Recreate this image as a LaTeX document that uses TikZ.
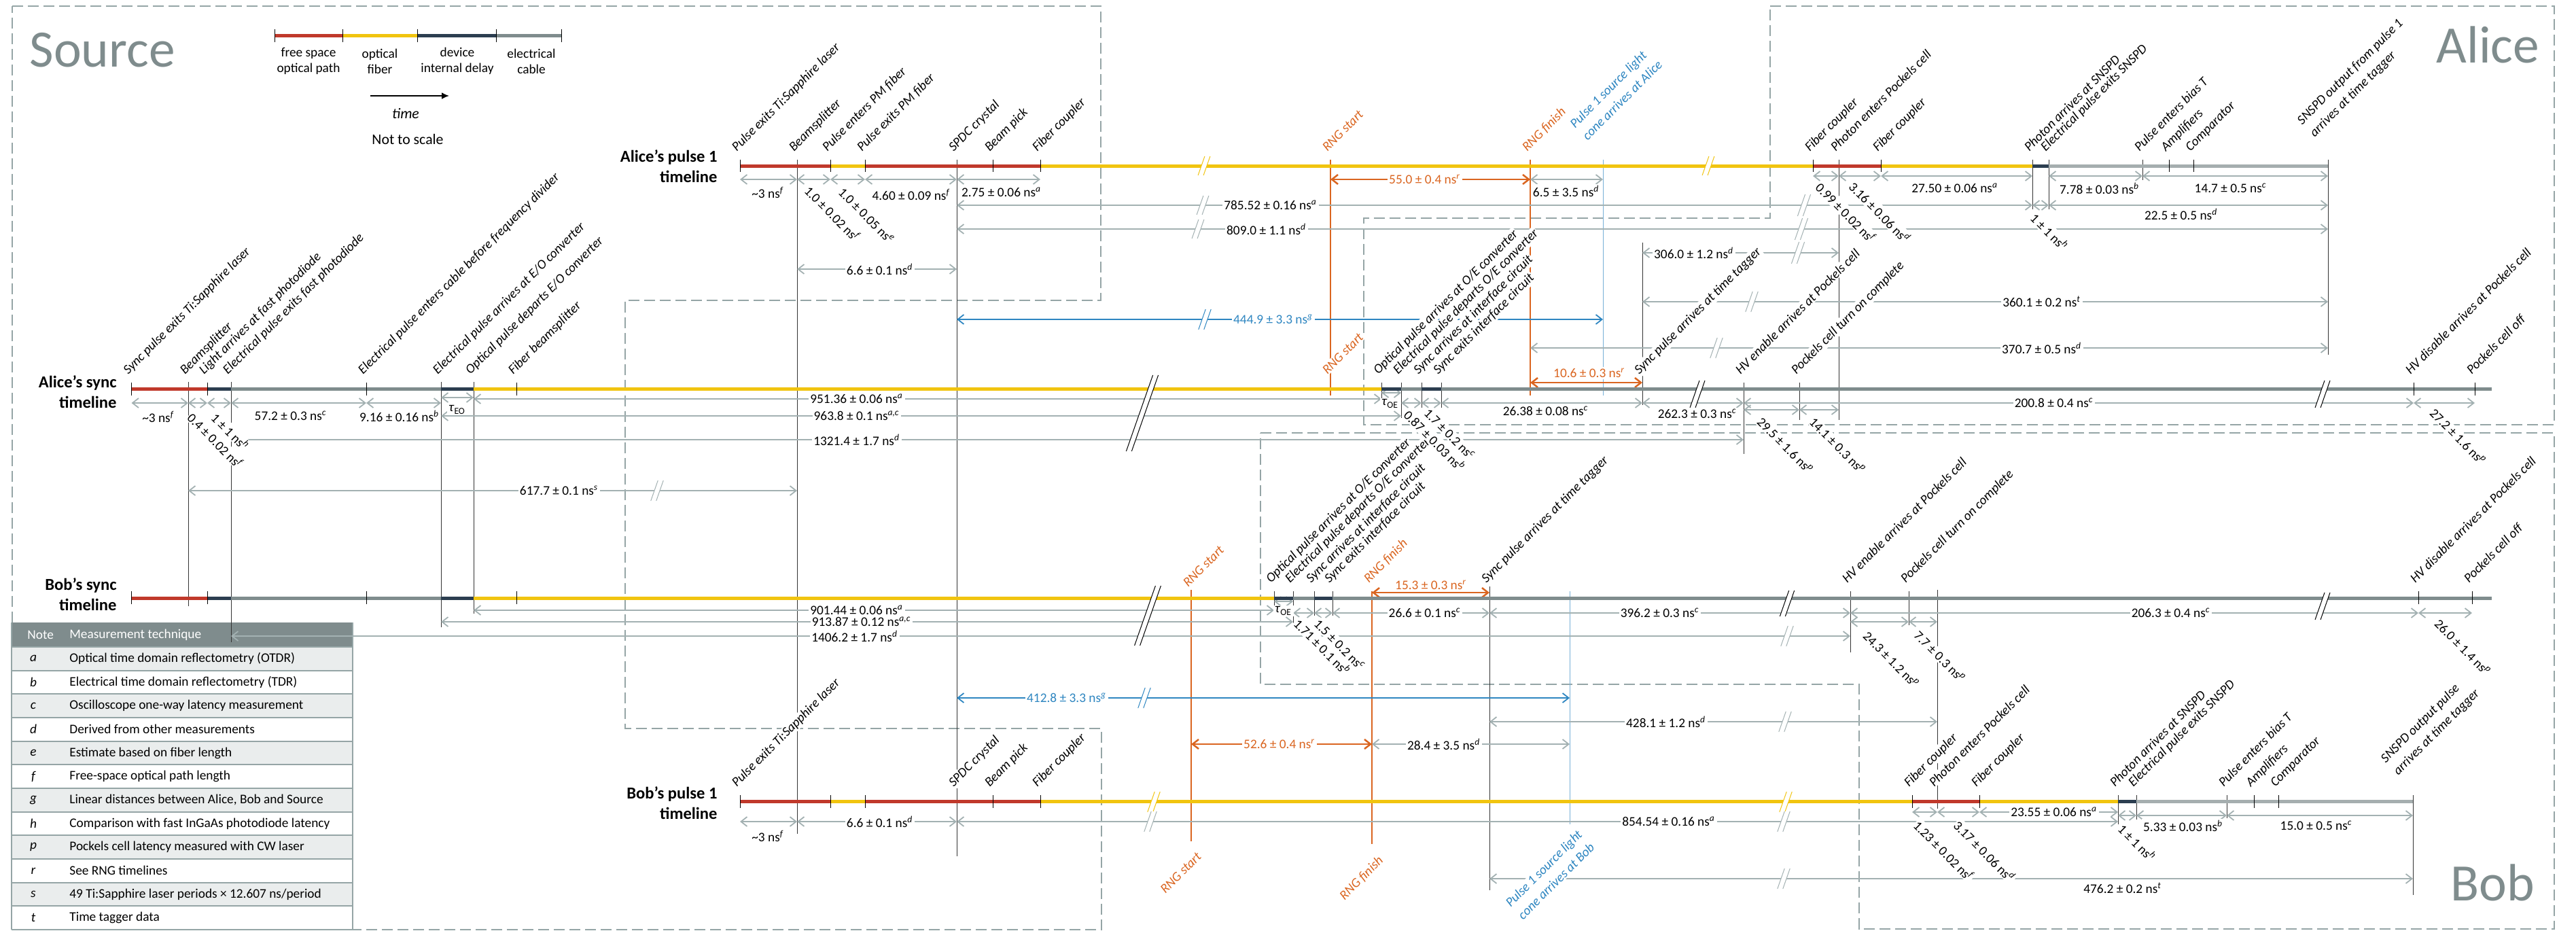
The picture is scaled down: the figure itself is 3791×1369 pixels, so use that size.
\documentclass[tikz,border=0pt]{standalone}
\usepackage{fontspec}
\setmainfont{Carlito}
\usepackage{xcolor}
\definecolor{tlred}{HTML}{C0392B}
\definecolor{tlyellow}{HTML}{F1C40F}
\definecolor{tlnavy}{HTML}{2C3E50}
\definecolor{tlcable}{HTML}{7F8C8D}
\definecolor{tldim}{HTML}{A3B1B2}
\definecolor{tlorange}{HTML}{DA6520}
\definecolor{tlblue}{HTML}{2E86C1}
\definecolor{tlframe}{HTML}{95A5A6}
\definecolor{tlrow}{HTML}{EAEDED}
\usetikzlibrary{arrows.meta}
\newcommand{\tlsize}{\fontsize{5.5}{7.4}\selectfont}
\newcommand{\msr}[1]{\textsuperscript{\itshape #1}}
\newcommand{\tdel}[1]{\textit{τ}\textsubscript{#1}}

\begin{document}
\begin{tikzpicture}[x=0.1mm, y=-0.1mm, font=\tlsize,
  seg/.style={line width=0.5mm},
  tk/.style={line width=0.1mm, black},
  rule/.style={line width=0.1mm, black!80},
  barbs/.style={{Straight Barb[length=0.9mm,width=1.4mm]}-{Straight Barb[length=0.9mm,width=1.4mm]}},
  dim/.style={barbs, line width=0.18mm, tldim},
  rng/.style={barbs, line width=0.25mm, tlorange},
  cone/.style={barbs, line width=0.18mm, tlblue},
  val/.style={fill=white, inner sep=0.6pt},
  tag/.style={rotate=45, anchor=base west, font=\tlsize\itshape, fill=white, inner sep=0.4pt},
  tag2/.style={tag, align=left},
  low/.style={rotate=45, anchor=north east, font=\tlsize\itshape, fill=white, inner sep=0.4pt, align=left},
  vtag/.style={rotate=-45, anchor=base west, fill=white, inner sep=0.4pt},
  zone/.style={tlframe, line width=0.15mm, dash pattern=on 1.6mm off 0.7mm},
  tlhead/.style={font=\fontsize{7}{8.5}\selectfont\bfseries, align=right, anchor=east},
  bigname/.style={font=\fontsize{22}{26}\selectfont, text=tlcable, anchor=base west, inner sep=0pt},
]
\useasboundingbox (0,0) rectangle (3791,1369);

% ---- dashed zones: source, Alice, Bob
\draw[zone] (18,9) -- (1620,9) -- (1620,442) -- (920,442) -- (920,1072)
  -- (1621,1072) -- (1621,1368) -- (18,1368) -- cycle;
\draw[zone] (2605,9) -- (3759,9) -- (3759,625) -- (2007,625) -- (2007,321)
  -- (2605,321) -- cycle;
\draw[zone] (1855,637) -- (3759,637) -- (3759,1367) -- (2736,1367)
  -- (2736,1007) -- (1855,1007) -- cycle;
\node[bigname] (src) at (43,98) {Source};
\node[bigname] (alice) at (3585,92) {Alice};
\node[bigname] (bob) at (3606,1325) {Bob};

% ---- legend
\foreach \a/\b/\c in {404/504/tlred, 504/614/tlyellow, 614/730/tlnavy, 730/826/tlcable}
  \draw[seg, \c] (\a,52) -- (\b,52);
\foreach \x in {404,504,614,730,826} \draw[tk] (\x,43) -- (\x,62);
\foreach \x/\t [count=\n] in {454/{free space\\optical path}, 559/{optical\\fiber},
    673/{device\\internal delay}, 782/{electrical\\cable}}
  \node[align=center, font=\fontsize{5.5}{6.6}\selectfont] (lg\n) at (\x,90) {\t};
\draw[-{Latex[length=1.1mm,width=1mm]}, line width=0.2mm] (545,141) -- (661,141);
\node[font=\fontsize{6.2}{7}\selectfont\itshape] (tm) at (597,167) {time};
\node[font=\fontsize{6.2}{7}\selectfont] (nts) at (600,205) {Not to scale};

% ---- notes table
\fill[tlrow] (17,952) rectangle (519,1368);
\foreach \i in {1,3,...,11} \fill[white] (17,952+34.67*\i) rectangle (519,986.67+34.67*\i);
\fill[tlcable] (17,916) rectangle (519,952);
\foreach \i in {0,...,12} \draw[tlframe, line width=0.2mm] (17,952+34.67*\i) -- (519,952+34.67*\i);
\draw[tlframe, line width=0.2mm] (17,916) -- (17,1368) (519,916) -- (519,1368);
\node[text=white, anchor=west] (nh) at (28,934) {Note};
\node[text=white, anchor=west] (mh) at (90,934) {Measurement technique};
\foreach \k/\t [count=\i from 0] in {a/{Optical time domain reflectometry (OTDR)},
    b/{Electrical time domain reflectometry (TDR)},
    c/{Oscilloscope one-way latency measurement},
    d/{Derived from other measurements}, e/{Estimate based on fiber length},
    f/{Free-space optical path length},
    g/{Linear distances between Alice, Bob and Source},
    h/{Comparison with fast InGaAs photodiode latency},
    p/{Pockels cell latency measured with CW laser}, r/{See RNG timelines},
    s/{49 Ti:Sapphire laser periods × 12.607 ns/period}, t/{Time tagger data}}{
  \node[font=\tlsize\itshape] (nk\k) at (49,969.3+34.67*\i) {\k};
  \node[anchor=west] (nt\k) at (90,969.3+34.67*\i) {\t};
}

% ---- event lines
\foreach \x/\a/\b in {1173/235/1227, 1408/235/1260, 2706/235/618, 2991/235/308,
    3015/235/308, 3153/235/265, 3426/235/522, 277/562/892, 340/562/945,
    649/562/923, 697/562/903, 2033/563/590, 2062/563/615, 2092/563/600,
    2121/563/600, 2417/357/596, 2566/563/668, 2648/563/618, 1875/870/903,
    1903/870/920, 1934/870/906, 1961/870/906, 2192/863/1310, 2723/870/960,
    2809/870/920, 2851/868/1190, 3117/1170/1213, 3144/1170/1206,
    3277/1170/1204, 3551/1170/1317}
  \draw[rule] (\x,\a) -- (\x,\b);
\foreach \x/\a/\b in {1958/235/582, 2252/235/582, 1753/868/1238, 2019/870/1242}
  \draw[line width=0.12mm, tlorange] (\x,\a) -- (\x,\b);
\foreach \x/\a/\b in {2359/235/582, 2310/870/1213}
  \draw[line width=0.1mm, tlblue!65] (\x,\a) -- (\x,\b);

% ---- measured intervals
\foreach \a/\b/\y in {1089/1173/264, 1173/1222/264, 1222/1273/264, 1273/1408/264,
    1408/1531/264, 1408/2991/302, 1408/3426/337, 1173/1408/396, 2252/2359/264,
    2668/2706/259, 2706/2768/259, 2768/2991/259, 3015/3153/259, 3153/3426/259,
    2991/3015/302, 3015/3426/302, 2417/2706/372, 2417/3426/444, 2252/3426/512,
    193.5/277/593, 277/305/593, 305/340/593, 340/539/593, 539/649/593,
    649/697/585, 697/2033/587, 649/2062/612, 340/2566/647, 277/1173/722,
    2033/2062/578, 2062/2092/593, 2092/2121/593, 2121/2417/593, 2417/2566/593,
    2566/2648/603, 2648/2706/603, 2566/3552/593, 3552/3642/593,
    697/1875/898, 649/1903/915, 340/2723/936, 1875/1903/885, 1903/1934/902,
    1934/1961/902, 1961/2192/902, 2192/2723/902, 2723/2809/915, 2809/2851/915,
    2723/3559/902, 3559/3638/902,
    1089/1173/1209, 1173/1408/1209, 1408/3117/1209, 2192/2851/1062,
    2019/2310/1095, 2192/3551/1293, 2814/2851/1195, 2851/2913/1195,
    2913/3117/1195, 3117/3144/1200, 3144/3277/1200, 3277/3551/1200}
  \draw[dim] (\a,\y) -- (\b,\y);
\foreach \a/\b/\y in {1958/2252/264, 2252/2417/563, 2019/2192/872, 1753/2019/1095}
  \draw[rng] (\a,\y) -- (\b,\y);
\foreach \a/\b/\y in {1408/2359/470, 1408/2310/1027}
  \draw[cone] (\a,\y) -- (\b,\y);

% ---- timelines
\foreach \a/\b/\y/\c in {1089/1222/244/tlred, 1222/1273/244/tlyellow,
    1273/1531/244/tlred, 1531/2668/244/tlyellow, 2668/2768/244/tlred,
    2768/2991/244/tlyellow, 2991/3015/244/tlnavy, 3015/3426/244/tlcable!70,
    193.5/305/572/tlred, 305/340/572/tlnavy, 340/649/572/tlcable,
    649/697/572/tlnavy, 697/2033/572/tlyellow, 2033/2062/572/tlnavy,
    2062/2092/572/tlcable, 2092/2121/572/tlnavy, 2121/3667/572/tlcable,
    193.5/305/880/tlred, 305/340/880/tlnavy, 340/649/880/tlcable,
    649/697/880/tlnavy, 697/1875/880/tlyellow, 1875/1903/880/tlnavy,
    1903/1934/880/tlcable, 1934/1961/880/tlnavy, 1961/3667/880/tlcable,
    1089/1222/1179/tlred, 1222/1273/1179/tlyellow, 1273/1531/1179/tlred,
    1531/2814/1179/tlyellow, 2814/2913/1179/tlred, 2913/3117/1179/tlyellow,
    3117/3144/1179/tlnavy, 3144/3551/1179/tlcable!70}
  \draw[seg, \c] (\a,\y) -- (\b,\y);
\foreach \x in {1089,1222,1273,1461,1531,2668,2768,3192,3228} \draw[tk] (\x,235) -- (\x,253);
\foreach \x in {193.5,305,539,760,3552,3642} \draw[tk] (\x,563) -- (\x,582);
\foreach \x in {193.5,305,539,760,3559,3638} \draw[tk] (\x,870) -- (\x,889);
\foreach \x in {1089,1222,1273,1461,1531,2814,2913,3317,3353} \draw[tk] (\x,1170) -- (\x,1189);

% ---- breaks in time
\foreach \x/\y/\h/\c in {1772/244/14/tlyellow, 2514/244/14/tlyellow,
    1770/302/14/tldim, 1763/337/14/tldim, 2655/302/16/tldim, 2651/337/16/tldim,
    2646/372/16/tldim, 1773/470/15/tlblue, 2578/444/15/tldim, 2526/512/15/tldim,
    1681/608/56/black, 2498/580/20/black, 3418/580/20/black, 967/722/15/tldim,
    1689/906/44/black, 2630/888/19/black, 3418/892/20/black, 2630/936/15/tldim,
    1684/1027/15/tlblue, 2627/1062/15/tldim, 1698/1180/15/tlyellow,
    2628/1180/15/tlyellow, 1693/1209/15/tldim, 2625/1209/15/tldim,
    2625/1293/15/tldim}{
  \fill[white] (\x-4-0.35*\h,\y+\h) -- (\x-4+0.35*\h,\y-\h)
    -- (\x+4+0.35*\h,\y-\h) -- (\x+4-0.35*\h,\y+\h) -- cycle;
  \draw[line width=0.1mm, \c] (\x-4-0.35*\h,\y+\h) -- (\x-4+0.35*\h,\y-\h)
    (\x+4-0.35*\h,\y+\h) -- (\x+4+0.35*\h,\y-\h);
}

% ---- timeline names
\node[tlhead] (hap) at (1068,245) {Alice’s pulse 1\\timeline};
\node[tlhead] (has) at (184,577) {Alice’s sync\\timeline};
\node[tlhead] (hbs) at (184,875) {Bob’s sync\\timeline};
\node[tlhead] (hbp) at (1068,1182) {Bob’s pulse 1\\timeline};

% ---- event names
\foreach \x/\t [count=\n] in {1089/{Pulse exits Ti:Sapphire laser}, 1173/Beamsplitter,
    1222/{Pulse enters PM fiber}, 1273/{Pulse exits PM fiber}, 1408/{SPDC crystal},
    1461/{Beam pick}, 1531/{Fiber coupler}, 2668/{Fiber coupler},
    2706/{Photon enters Pockels cell}, 2768/{Fiber coupler},
    2991/{Photon arrives at SNSPD}, 3015/{Electrical pulse exits SNSPD},
    3153/{Pulse enters bias T}, 3192/Amplifiers, 3228/Comparator}
  \node[tag] (ap\n) at (\x-6,225) {\t};
\foreach \x/\t [count=\n] in {193.5/{Sync pulse exits Ti:Sapphire laser}, 277/Beamsplitter,
    305/{Light arrives at fast photodiode}, 340/{Electrical pulse exits fast photodiode},
    539/{Electrical pulse enters cable before frequency divider},
    649/{Electrical pulse arrives at E/O converter},
    697/{Optical pulse departs E/O converter}, 760/{Fiber beamsplitter},
    2033/{Optical pulse arrives at O/E converter},
    2062/{Electrical pulse departs O/E converter},
    2092/{Sync arrives at interface circuit}, 2121/{Sync exits interface circuit},
    2417/{Sync pulse arrives at time tagger}, 2566/{HV enable arrives at Pockels cell},
    2648/{Pockels cell turn on complete}, 3552/{HV disable arrives at Pockels cell},
    3642/{Pockels cell off}}
  \node[tag] (as\n) at (\x-6,553) {\t};
\foreach \x/\t [count=\n] in {1875/{Optical pulse arrives at O/E converter},
    1903/{Electrical pulse departs O/E converter},
    1934/{Sync arrives at interface circuit}, 1961/{Sync exits interface circuit},
    2192/{Sync pulse arrives at time tagger}, 2723/{HV enable arrives at Pockels cell},
    2809/{Pockels cell turn on complete}, 3559/{HV disable arrives at Pockels cell},
    3638/{Pockels cell off}}
  \node[tag] (bs\n) at (\x-6,860) {\t};
\foreach \x/\t [count=\n] in {1089/{Pulse exits Ti:Sapphire laser}, 1408/{SPDC crystal},
    1461/{Beam pick}, 1531/{Fiber coupler}, 2814/{Fiber coupler},
    2851/{Photon enters Pockels cell}, 2913/{Fiber coupler},
    3117/{Photon arrives at SNSPD}, 3144/{Electrical pulse exits SNSPD},
    3277/{Pulse enters bias T}, 3317/Amplifiers, 3353/Comparator}
  \node[tag] (bp\n) at (\x-6,1160) {\t};
\foreach \x/\y/\t [count=\n] in {1958/225/{RNG start}, 2252/225/{RNG finish},
    1958/553/{RNG start}, 1753/866/{RNG start}, 2019/860/{RNG finish}}
  \node[tag, text=tlorange] (rg\n) at (\x-6,\y) {\t};
\node[tag2, text=tlblue] (acone) at (2335,209) {Pulse 1 source light\\cone arrives at Alice};
\node[tag2] (asnspd) at (3405,204) {SNSPD output from pulse 1\\arrives at time tagger};
\node[tag2] (bsnspd) at (3528,1143) {SNSPD output pulse\\arrives at time tagger};
\node[low, text=tlorange] (brs) at (1760,1250) {RNG start};
\node[low, text=tlorange] (brf) at (2027,1255) {RNG finish};
\node[low, text=tlblue] (bcone) at (2320,1217) {Pulse 1 source light\\cone arrives at Bob};

% ---- interval values
\foreach \x/\y/\t [count=\n] in {1870/302/{785.52 ± 0.16 ns\msr{a}},
    1864/337/{809.0 ± 1.1 ns\msr{d}}, 1295/396/{6.6 ± 0.1 ns\msr{d}},
    2493/372/{306.0 ± 1.2 ns\msr{d}}, 3005/444/{360.1 ± 0.2 ns\msr{t}},
    3005/512/{370.7 ± 0.5 ns\msr{d}}, 1261/587/{951.36 ± 0.06 ns\msr{a}},
    1261/612/{963.8 ± 0.1 ns\msr{a,c}}, 1261/647/{1321.4 ± 1.7 ns\msr{d}},
    823/722/{617.7 ± 0.1 ns\msr{s}}, 3023/593/{200.8 ± 0.4 ns\msr{c}},
    1261/898/{901.44 ± 0.06 ns\msr{a}}, 1268/915/{913.87 ± 0.12 ns\msr{a,c}},
    1258/936/{1406.2 ± 1.7 ns\msr{d}}, 2097/902/{26.6 ± 0.1 ns\msr{c}},
    2443/902/{396.2 ± 0.3 ns\msr{c}}, 3195/902/{206.3 ± 0.4 ns\msr{c}},
    1295/1209/{6.6 ± 0.1 ns\msr{d}}, 2456/1209/{854.54 ± 0.16 ns\msr{a}},
    2452/1062/{428.1 ± 1.2 ns\msr{d}}, 2125/1095/{28.4 ± 3.5 ns\msr{d}},
    3023/1195/{23.55 ± 0.06 ns\msr{a}},
    1130/283/{\textasciitilde3 ns\msr{f}}, 1341/286/{4.60 ± 0.09 ns\msr{f}},
    1474/283/{2.75 ± 0.06 ns\msr{a}}, 2305/281/{6.5 ± 3.5 ns\msr{d}},
    2877/277/{27.50 ± 0.06 ns\msr{a}}, 3090/277/{7.78 ± 0.03 ns\msr{b}},
    3283/277/{14.7 ± 0.5 ns\msr{c}}, 3210/315/{22.5 ± 0.5 ns\msr{d}},
    233/613/{\textasciitilde3 ns\msr{f}}, 428/612/{57.2 ± 0.3 ns\msr{c}},
    588/612/{9.16 ± 0.16 ns\msr{b}}, 2275/605/{26.38 ± 0.08 ns\msr{c}},
    2498/609/{262.3 ± 0.3 ns\msr{c}}, 1130/1230/{\textasciitilde3 ns\msr{f}},
    3213/1215/{5.33 ± 0.03 ns\msr{b}}, 3409/1215/{15.0 ± 0.5 ns\msr{c}},
    3124/1307/{476.2 ± 0.2 ns\msr{t}},
    673/603/{\tdel{EO}}, 2046/594/{\tdel{OE}}, 1889/899/{\tdel{OE}}}
  \node[val] (v\n) at (\x,\y) {\t};
\foreach \x/\y/\t [count=\n] in {2097/264/{55.0 ± 0.4 ns\msr{r}},
    2339/549/{10.6 ± 0.3 ns\msr{r}}, 2106/861/{15.3 ± 0.3 ns\msr{r}},
    1883/1095/{52.6 ± 0.4 ns\msr{r}}}
  \node[val, text=tlorange] (vr\n) at (\x,\y) {\t};
\foreach \x/\y/\t [count=\n] in {1874/470/{444.9 ± 3.3 ns\msr{g}},
    1570/1027/{412.8 ± 3.3 ns\msr{g}}}
  \node[val, text=tlblue] (vg\n) at (\x,\y) {\t};
\foreach \x/\y/\t [count=\n] in {1181/281/{1.0 ± 0.02 ns\msr{f}},
    1231/283/{1.0 ± 0.05 ns\msr{e}}, 2669/276/{0.99 ± 0.02 ns\msr{f}},
    2718/275/{3.16 ± 0.06 ns\msr{d}}, 2985/321/{1 ± 1 ns\msr{h}},
    273/615/{0.4 ± 0.02 ns\msr{f}}, 308/615/{1 ± 1 ns\msr{h}},
    2063/611/{0.87 ± 0.03 ns\msr{b}}, 2093/608/{1.7 ± 0.2 ns\msr{c}},
    2583/621/{29.5 ± 1.6 ns\msr{p}}, 2660/621/{14.1 ± 0.3 ns\msr{p}},
    3573/608/{27.2 ± 1.6 ns\msr{p}}, 1901/918/{1.71 ± 0.1 ns\msr{b}},
    1931/918/{1.5 ± 0.2 ns\msr{c}}, 2739/936/{24.3 ± 1.2 ns\msr{p}},
    2814/935/{7.7 ± 0.3 ns\msr{p}}, 3580/918/{26.0 ± 1.4 ns\msr{p}},
    2813/1215/{1.23 ± 0.02 ns\msr{f}}, 2872/1215/{3.17 ± 0.06 ns\msr{d}},
    3114/1220/{1 ± 1 ns\msr{h}}}
  \node[vtag] (vt\n) at (\x,\y) {\t};
\end{tikzpicture}
\end{document}
